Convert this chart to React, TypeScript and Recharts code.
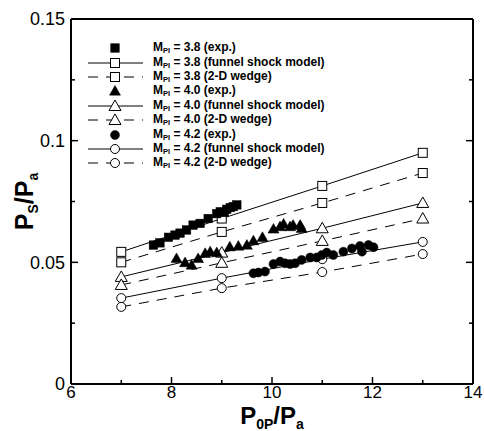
import React from 'react';
import { ComposedChart, Scatter, XAxis, YAxis } from 'recharts';

// model curves are evaluated at these P0P/Pa values
const modelX = [7, 9, 11, 13];
const funnel38 = [0.0543, 0.068, 0.0814, 0.095];
const wedge38 = [0.05, 0.0625, 0.0744, 0.0867];
const funnel40 = [0.044, 0.054, 0.064, 0.0744];
const wedge40 = [0.0407, 0.0498, 0.0588, 0.068];
const funnel42 = [0.0353, 0.0435, 0.0513, 0.0584];
const wedge42 = [0.0317, 0.0394, 0.046, 0.0534];

// experiments
const exp38X = [7.64, 7.77, 7.94, 8.07, 8.17, 8.3, 8.43, 8.57, 8.73, 8.9, 8.97, 9.05, 9.1, 9.17, 9.23, 9.3];
const exp38Y = [0.0571, 0.058, 0.0603, 0.0612, 0.062, 0.0633, 0.0653, 0.066, 0.068, 0.07, 0.0708, 0.0705, 0.0718, 0.0725, 0.0729, 0.0736];
const exp40X = [8.1, 8.27, 8.4, 8.53, 8.67, 8.77, 8.9, 9.16, 9.33, 9.5, 9.63, 9.81, 10.03, 10.16, 10.23, 10.36, 10.42, 10.56, 10.59];
const exp40Y = [0.0516, 0.0499, 0.0489, 0.0516, 0.0537, 0.0544, 0.054, 0.0564, 0.0567, 0.0571, 0.0589, 0.0603, 0.0637, 0.0647, 0.0658, 0.0647, 0.0653, 0.0653, 0.064];
const exp42X = [9.63, 9.73, 9.86, 10.03, 10.16, 10.26, 10.36, 10.46, 10.59, 10.76, 10.89, 10.99, 11.09, 11.22, 11.42, 11.59, 11.75, 11.79, 11.92, 12.02];
const exp42Y = [0.0455, 0.0458, 0.0462, 0.0493, 0.0503, 0.0496, 0.0493, 0.0496, 0.051, 0.052, 0.052, 0.053, 0.054, 0.053, 0.0544, 0.0557, 0.0567, 0.0544, 0.0571, 0.0562];

const xTicks = [6, 7, 8, 9, 10, 11, 12, 13, 14];
const xTickLabels = ['6', '', '8', '', '10', '', '12', '', '14'];
const yTicks = [0, 0.025, 0.05, 0.075, 0.1, 0.125, 0.15];
const yTickLabels = ['0', '', '0.05', '', '0.1', '', '0.15'];

const legendLabels = ['3.8 (exp.)', '3.8 (funnel shock model)', '3.8 (2-D wedge)', '4.0 (exp.)', '4.0 (funnel shock model)', '4.0 (2-D wedge)', '4.2 (exp.)', '4.2 (funnel shock model)', '4.2 (2-D wedge)'];

const pts = (xs: number[], ys: number[]) => xs.map((x, i) => ({ x, y: ys[i] }));

const FONT = '"Liberation Sans", Arial, Helvetica, sans-serif';
const DASH = '10 8';

type Kind = 'square' | 'triangle' | 'circle';

const Marker = ({ cx, cy, kind, filled }: { cx: number; cy: number; kind: Kind; filled: boolean }) => {
  const fill = filled ? '#000' : '#fff';
  const sw = filled ? 0.5 : 1;
  if (kind === 'square') {
    const s = filled ? 8.5 : 9;
    return <rect x={cx - s / 2} y={cy - s / 2} width={s} height={s} fill={fill} stroke="#000" strokeWidth={sw} />;
  }
  if (kind === 'triangle') {
    const r = filled ? 5.5 : 6;
    return (
      <polygon
        points={`${cx},${cy - r} ${cx - r},${cy + r * 0.75} ${cx + r},${cy + r * 0.75}`}
        fill={fill}
        stroke="#000"
        strokeWidth={sw}
      />
    );
  }
  return <circle cx={cx} cy={cy} r={4.5} fill={fill} stroke="#000" strokeWidth={sw} />;
};

const shapeOf = (kind: Kind, filled: boolean) => (p: any) => <Marker cx={p.cx} cy={p.cy} kind={kind} filled={filled} />;

const tickPath = (x1: number, y1: number, x2: number, y2: number) => (
  <path d={`M${x1},${y1}L${x2},${y2}`} stroke="#000" strokeWidth={1.5} fill="none" />
);

const BottomTick = (props: any) => {
  const { x, y, index } = props;
  const major = index % 2 === 0;
  const axisY = y - 1;
  return (
    <g>
      {tickPath(x, axisY, x, axisY - (major ? 7 : 4))}
      {major && (
        <text x={x} y={axisY + 1} dy="0.77em" textAnchor="middle" fontSize={17} fontFamily={FONT} fill="#000">
          {xTickLabels[index]}
        </text>
      )}
    </g>
  );
};

const TopTick = (props: any) => {
  const { x, y, index } = props;
  const major = index % 2 === 0;
  return <g>{tickPath(x, y, x, y + (major ? 7 : 4))}</g>;
};

const LeftTick = (props: any) => {
  const { x, y, index } = props;
  const major = index % 2 === 0;
  const axisX = x + 6;
  return (
    <g>
      {tickPath(axisX, y, axisX + (major ? 7 : 4), y)}
      {major && (
        <text x={axisX - 6} y={y} dy="0.36em" textAnchor="end" fontSize={18} fontFamily={FONT} fill="#000">
          {yTickLabels[index]}
        </text>
      )}
    </g>
  );
};

const RightTick = (props: any) => {
  const { x, y, index } = props;
  const major = index % 2 === 0;
  return <g>{tickPath(x, y, x - (major ? 7 : 4), y)}</g>;
};

const XLabel = (props: any) => {
  const { x, y, width } = props.viewBox;
  return (
    <text x={x + width / 2} y={y + 40} textAnchor="middle" fontFamily={FONT} fontWeight="bold" fontSize={24} fill="#000">
      P
      <tspan fontSize={14} dy={5}>0P</tspan>
      <tspan dy={-5}>/P</tspan>
      <tspan fontSize={14} dy={5}>a</tspan>
    </text>
  );
};

const YLabel = (props: any) => {
  const { y, height } = props.viewBox;
  const cx = 33;
  const cy = y + height / 2;
  return (
    <text
      x={cx}
      y={cy}
      transform={`rotate(-90, ${cx}, ${cy})`}
      textAnchor="middle"
      fontFamily={FONT}
      fontWeight="bold"
      fontSize={25}
      fill="#000"
    >
      P
      <tspan fontSize={14} dy={5}>S</tspan>
      <tspan dy={-5}>/P</tspan>
      <tspan fontSize={14} dy={5}>a</tspan>
    </text>
  );
};

const legendKinds: Kind[] = ['square', 'triangle', 'circle'];

const LegendIcon = ({ kind, style }: { kind: Kind; style: number }) => (
  <svg width={60} height={14} style={{ display: 'block' }}>
    {style === 1 && <line x1={0} x2={55} y1={7} y2={7} stroke="#000" strokeWidth={1} />}
    {style === 2 && <line x1={0} x2={55} y1={7} y2={7} stroke="#000" strokeWidth={1} strokeDasharray={DASH} />}
    <Marker cx={27} cy={7} kind={kind} filled={style === 0} />
  </svg>
);

const LegendBox = () => (
  <div style={{ position: 'absolute', left: 88, top: 41, fontFamily: FONT }}>
    {legendLabels.map((label, i) => (
      <div key={label} style={{ display: 'flex', alignItems: 'center', height: 14.4 }}>
        <LegendIcon kind={legendKinds[Math.floor(i / 3)]} style={i % 3} />
        <span style={{ marginLeft: 5, fontSize: 12, fontWeight: 'bold', lineHeight: '14px', whiteSpace: 'nowrap' }}>
          M
          <span style={{ fontSize: 7.5, position: 'relative', top: 2 }}>PI</span>
          {' = ' + label}
        </span>
      </div>
    ))}
  </div>
);

export default function App() {
  return (
    <div style={{ position: 'absolute', left: 0, top: 0, width: 484, height: 431, background: '#fff' }}>
      <ComposedChart width={484} height={431} margin={{ top: 18, right: 10, bottom: 2, left: 11 }}>
        <XAxis
          type="number"
          dataKey="x"
          domain={[6, 14]}
          ticks={xTicks}
          interval={0}
          allowDataOverflow
          height={45}
          tickSize={0}
          tickMargin={1}
          tickLine={false}
          tick={<BottomTick />}
          axisLine={{ stroke: '#000', strokeWidth: 2 }}
          label={{ content: <XLabel /> }}
        />
        <XAxis
          xAxisId="top"
          orientation="top"
          type="number"
          domain={[6, 14]}
          ticks={xTicks}
          interval={0}
          allowDataOverflow
          height={1}
          tickSize={0}
          tickMargin={0}
          tickLine={false}
          tick={<TopTick />}
          axisLine={{ stroke: '#000', strokeWidth: 2 }}
        />
        <YAxis
          type="number"
          dataKey="y"
          domain={[0, 0.15]}
          ticks={yTicks}
          interval={0}
          allowDataOverflow
          width={60}
          tickSize={0}
          tickMargin={6}
          tickLine={false}
          tick={<LeftTick />}
          axisLine={{ stroke: '#000', strokeWidth: 2 }}
          label={{ content: <YLabel /> }}
        />
        <YAxis
          yAxisId="right"
          orientation="right"
          type="number"
          domain={[0, 0.15]}
          ticks={yTicks}
          interval={0}
          allowDataOverflow
          width={1}
          tickSize={0}
          tickMargin={0}
          tickLine={false}
          tick={<RightTick />}
          axisLine={{ stroke: '#000', strokeWidth: 2 }}
        />
        <Scatter data={pts(modelX, funnel38)} line={{ stroke: '#000', strokeWidth: 1 }} shape={shapeOf('square', false)} isAnimationActive={false} />
        <Scatter data={pts(modelX, wedge38)} line={{ stroke: '#000', strokeWidth: 1, strokeDasharray: DASH }} shape={shapeOf('square', false)} isAnimationActive={false} />
        <Scatter data={pts(modelX, funnel40)} line={{ stroke: '#000', strokeWidth: 1 }} shape={shapeOf('triangle', false)} isAnimationActive={false} />
        <Scatter data={pts(modelX, wedge40)} line={{ stroke: '#000', strokeWidth: 1, strokeDasharray: DASH }} shape={shapeOf('triangle', false)} isAnimationActive={false} />
        <Scatter data={pts(modelX, funnel42)} line={{ stroke: '#000', strokeWidth: 1 }} shape={shapeOf('circle', false)} isAnimationActive={false} />
        <Scatter data={pts(modelX, wedge42)} line={{ stroke: '#000', strokeWidth: 1, strokeDasharray: DASH }} shape={shapeOf('circle', false)} isAnimationActive={false} />
        <Scatter data={pts(exp38X, exp38Y)} shape={shapeOf('square', true)} isAnimationActive={false} />
        <Scatter data={pts(exp40X, exp40Y)} shape={shapeOf('triangle', true)} isAnimationActive={false} />
        <Scatter data={pts(exp42X, exp42Y)} shape={shapeOf('circle', true)} isAnimationActive={false} />
      </ComposedChart>
      <LegendBox />
    </div>
  );
}
